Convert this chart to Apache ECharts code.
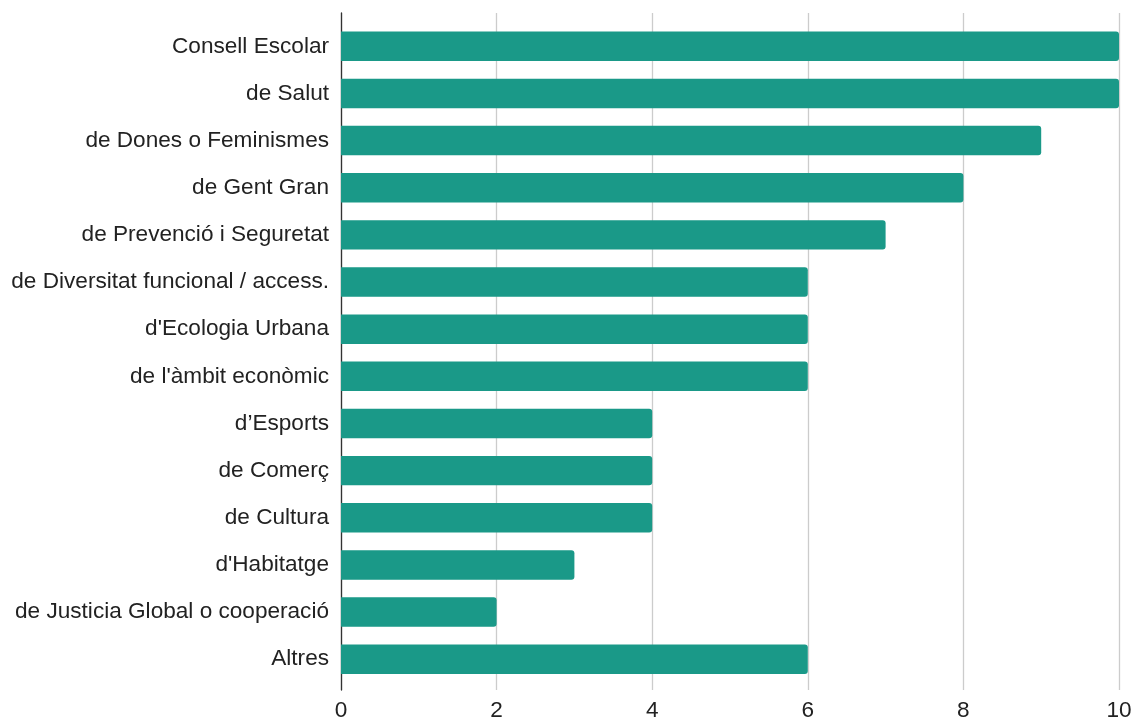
<!DOCTYPE html>
<html>
<head>
<meta charset="utf-8">
<script src="https://cdn.jsdelivr.net/npm/echarts@6/dist/echarts.min.js"></script>
<style>
html,body{margin:0;padding:0;background:#fff;}
#c{width:1131px;height:720px;}
</style>
</head>
<body>
<div id="c"></div>
<script>
const categories = [
  "Consell Escolar",
  "de Salut",
  "de Dones o Feminismes",
  "de Gent Gran",
  "de Prevenció i Seguretat",
  "de Diversitat funcional / access.",
  "d'Ecologia Urbana",
  "de l'àmbit econòmic",
  "d’Esports",
  "de Comerç",
  "de Cultura",
  "d'Habitatge",
  "de Justicia Global o cooperació",
  "Altres"
];
const values = [10, 10, 9, 8, 7, 6, 6, 6, 4, 4, 4, 3, 2, 6];
const xTicks = [0, 2, 4, 6, 8, 10];

const font = "'Liberation Sans', Arial, sans-serif";
const chart = echarts.init(document.getElementById('c'), null, {renderer: 'canvas'});
chart.setOption({
  animation: false,
  backgroundColor: '#fff',
  grid: [
    {left: 341, right: 12, top: 13, bottom: 30, containLabel: false, outerBoundsMode: 'none'},
    {left: 341, right: 12, top: 22.7, bottom: 37.2, containLabel: false, outerBoundsMode: 'none'}
  ],
  xAxis: [
    {
      type: 'value', gridIndex: 0, min: xTicks[0], max: xTicks[xTicks.length - 1], interval: 2,
      axisLine: {show: false}, axisTick: {show: false},
      splitLine: {show: true, lineStyle: {color: '#cccccc', width: 1.3}},
      axisLabel: {fontFamily: font, fontSize: 22.6, color: '#222', margin: 9}
    },
    {
      type: 'value', gridIndex: 1, min: xTicks[0], max: xTicks[xTicks.length - 1],
      show: false
    }
  ],
  yAxis: [
    {
      type: 'category', gridIndex: 0, data: [''], show: true,
      axisLine: {show: true, lineStyle: {color: '#333', width: 1.3}},
      axisTick: {show: false}, axisLabel: {show: false}, splitLine: {show: false}
    },
    {
      type: 'category', gridIndex: 1, data: categories, inverse: true,
      axisLine: {show: false}, axisTick: {show: false},
      axisLabel: {fontFamily: font, fontSize: 22.6, color: '#222', margin: 12}
    }
  ],
  series: [{
    type: 'bar',
    xAxisIndex: 1, yAxisIndex: 1,
    data: values,
    barCategoryGap: '37.5%',
    itemStyle: {color: '#1a9988', borderRadius: [0, 3, 3, 0]}
  }]
});
</script>
</body>
</html>
